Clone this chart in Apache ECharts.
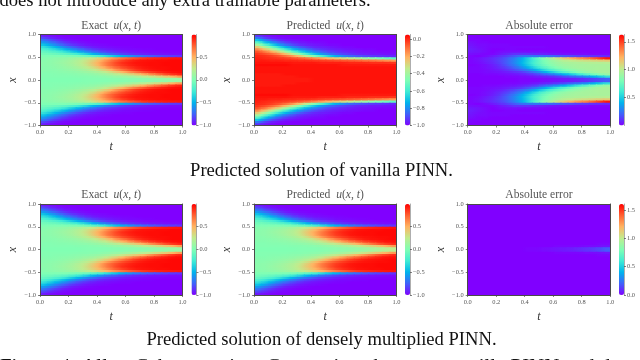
<!DOCTYPE html>
<html><head><meta charset="utf-8">
<style>html,body{margin:0;padding:0;background:#fff}#c{width:640px;height:360px;filter:blur(0.45px)}</style>
<script src="https://cdn.jsdelivr.net/npm/echarts@6/dist/echarts.min.js"></script>
</head><body><div id="c"></div>
<script>
// Cell centres. Rows run from x=.975 to x=.025; the lower half of each field mirrors the upper half, as in the picture.
const tCells = [.025,.075,.125,.175,.225,.275,.325,.375,.425,.475,.525,.575,.625,.675,.725,.775,.825,.875,.925,.975];
const xCellsUpper = [.975,.925,.875,.825,.775,.725,.675,.625,.575,.525,.475,.425,.375,.325,.275,.225,.175,.125,.075,.025];

const exactU = [
[-.93,-.97,-.99,-1,-1,-1,-1,-1,-1,-1,-1,-1,-1,-1,-1,-1,-1,-1,-1,-1],
[-.82,-.9,-.95,-.98,-.99,-1,-1,-1,-1,-1,-1,-1,-1,-1,-1,-1,-1,-1,-1,-1],
[-.7,-.8,-.88,-.94,-.97,-.99,-1,-1,-1,-1,-1,-1,-1,-1,-1,-1,-1,-1,-1,-1],
[-.58,-.69,-.79,-.87,-.93,-.96,-.98,-.99,-1,-1,-1,-1,-1,-1,-1,-1,-1,-1,-1,-1],
[-.44,-.56,-.68,-.78,-.86,-.91,-.95,-.97,-.98,-.99,-1,-1,-1,-1,-1,-1,-1,-1,-1,-1],
[-.31,-.41,-.53,-.65,-.75,-.83,-.89,-.93,-.96,-.97,-.98,-.99,-.99,-1,-1,-1,-1,-1,-1,-1],
[-.2,-.28,-.37,-.48,-.6,-.7,-.79,-.85,-.9,-.93,-.95,-.97,-.98,-.98,-.99,-.99,-1,-1,-1,-1],
[-.11,-.16,-.22,-.3,-.41,-.52,-.63,-.72,-.8,-.85,-.89,-.92,-.94,-.96,-.97,-.98,-.98,-.99,-.99,-.99],
[-.05,-.07,-.1,-.14,-.2,-.28,-.38,-.5,-.6,-.7,-.77,-.83,-.87,-.9,-.92,-.94,-.95,-.96,-.97,-.97],
[-.01,-.01,-.01,-.01,-.02,-.04,-.08,-.14,-.23,-.33,-.43,-.52,-.6,-.67,-.72,-.77,-.8,-.83,-.85,-.87],
[.02,.03,.05,.07,.1,.14,.2,.28,.38,.5,.6,.68,.75,.8,.85,.88,.9,.92,.93,.94],
[.03,.05,.07,.1,.14,.2,.28,.38,.5,.62,.74,.82,.88,.92,.94,.95,.96,.96,.97,.97],
[.04,.05,.08,.11,.15,.21,.3,.42,.55,.68,.79,.87,.91,.94,.95,.96,.96,.97,.97,.97],
[.04,.05,.07,.1,.14,.2,.28,.4,.54,.68,.78,.85,.9,.93,.95,.96,.96,.97,.97,.97],
[.03,.04,.06,.08,.11,.16,.23,.32,.45,.58,.7,.79,.85,.9,.93,.95,.96,.96,.97,.97],
[.03,.03,.04,.06,.08,.11,.16,.22,.31,.42,.56,.67,.77,.85,.9,.93,.95,.96,.97,.97],
[.02,.02,.03,.04,.05,.07,.1,.13,.19,.27,.37,.48,.59,.69,.77,.84,.89,.92,.95,.96],
[.01,.01,.02,.02,.03,.04,.05,.07,.1,.14,.2,.26,.33,.41,.5,.6,.69,.78,.85,.9],
[.01,.01,.01,.01,.01,.02,.02,.03,.04,.06,.08,.1,.13,.17,.22,.27,.33,.4,.48,.57],
[0,0,0,0,0,0,.01,.01,.01,.01,.02,.02,.03,.03,.04,.05,.06,.07,.08,.1]
];

const vanillaU = [
[-.93,-.97,-.99,-1,-1,-1,-1,-1,-1,-1,-1,-1,-1,-1,-1,-1,-1,-1,-1,-1],
[-.83,-.91,-.96,-.98,-.99,-1,-1,-1,-1,-1,-1,-1,-1,-1,-1,-1,-1,-1,-1,-1],
[-.7,-.81,-.89,-.94,-.97,-.98,-.99,-1,-1,-1,-1,-1,-1,-1,-1,-1,-1,-1,-1,-1],
[-.55,-.69,-.79,-.87,-.92,-.95,-.97,-.98,-.99,-.99,-1,-1,-1,-1,-1,-1,-1,-1,-1,-1],
[-.4,-.54,-.66,-.77,-.85,-.9,-.94,-.96,-.97,-.98,-.99,-.99,-1,-1,-1,-1,-1,-1,-1,-1],
[-.26,-.38,-.51,-.64,-.74,-.82,-.88,-.92,-.95,-.96,-.97,-.98,-.99,-.99,-1,-1,-1,-1,-1,-1],
[-.14,-.24,-.35,-.48,-.6,-.71,-.79,-.85,-.9,-.93,-.95,-.96,-.97,-.98,-.98,-.99,-.99,-1,-1,-1],
[-.06,-.12,-.2,-.3,-.43,-.55,-.66,-.75,-.82,-.87,-.91,-.93,-.95,-.96,-.97,-.98,-.98,-.99,-.99,-.99],
[-.02,-.05,-.09,-.15,-.24,-.35,-.48,-.6,-.7,-.78,-.84,-.88,-.91,-.93,-.95,-.96,-.97,-.97,-.98,-.98],
[0,-.01,-.03,-.06,-.11,-.17,-.26,-.37,-.48,-.58,-.67,-.75,-.8,-.85,-.88,-.9,-.92,-.93,-.94,-.95],
[.01,0,-.01,-.02,-.03,-.05,-.07,-.1,-.14,-.18,-.22,-.26,-.3,-.34,-.38,-.42,-.45,-.48,-.51,-.54],
[.02,.02,.01,.01,0,0,-.01,-.01,-.02,-.03,-.04,-.05,-.06,-.07,-.08,-.1,-.11,-.13,-.15,-.17],
[.03,.03,.03,.03,.03,.02,.02,.02,.02,.01,.01,.01,.01,0,0,0,-.01,-.01,-.01,-.02],
[.04,.04,.04,.04,.04,.03,.03,.03,.03,.03,.03,.03,.02,.02,.02,.02,.02,.02,.02,.02],
[.03,.03,.03,.03,.03,.03,.03,.03,.03,.03,.03,.03,.03,.03,.03,.03,.03,.03,.03,.03],
[.03,.03,.03,.03,.03,.03,.03,.03,.03,.03,.03,.03,.03,.03,.03,.03,.03,.03,.03,.03],
[.03,.03,.03,.03,.03,.03,.03,.03,.03,.03,.03,.03,.03,.03,.03,.03,.03,.03,.03,.03],
[.02,.02,.02,.02,.03,.03,.03,.03,.03,.03,.03,.03,.03,.03,.03,.03,.03,.03,.03,.03],
[.02,.02,.02,.02,.02,.02,.03,.03,.03,.03,.03,.03,.03,.03,.03,.03,.03,.03,.03,.03],
[.02,.02,.02,.02,.02,.02,.02,.02,.03,.03,.03,.03,.03,.03,.03,.03,.03,.03,.03,.03]
];

const vanillaError = [
[0,0,0,0,0,0,0,0,0,0,0,0,0,0,0,0,0,0,0,0],
[.01,0,0,0,0,0,0,0,0,0,0,0,0,0,0,0,0,0,0,0],
[.01,.01,0,0,0,0,0,0,0,0,0,0,0,0,0,0,0,0,0,0],
[.03,.01,.01,0,0,0,0,0,0,0,0,0,0,0,0,0,0,0,0,0],
[.04,.02,.02,.01,.01,.01,0,0,0,0,0,0,0,0,0,0,0,0,0,0],
[.05,.03,.02,.01,.01,.01,.01,.01,.01,.01,.01,0,0,0,0,0,0,0,0,0],
[.06,.04,.02,0,0,.01,.01,0,0,0,0,0,0,0,0,0,0,0,0,0],
[.05,.04,.02,0,.02,.03,.03,.03,.02,.02,.02,.01,.01,0,0,0,0,0,0,0],
[.03,.02,.01,.01,.04,.07,.1,.1,.1,.08,.07,.05,.04,.03,.03,.02,.02,.01,.01,.01],
[.01,0,.02,.05,.09,.13,.18,.23,.25,.25,.24,.23,.2,.18,.16,.13,.12,.1,.09,.08],
[.01,.03,.06,.09,.13,.19,.27,.38,.52,.68,.82,.94,1.05,1.14,1.23,1.3,1.35,1.42,1.5,1.58],
[.01,.03,.06,.09,.14,.2,.29,.39,.52,.65,.78,.87,.94,.99,1.02,1.05,1.07,1.09,1.12,1.14],
[.01,.02,.05,.08,.13,.2,.29,.4,.53,.66,.77,.85,.9,.94,.95,.96,.97,.98,.98,.99],
[0,.01,.03,.06,.11,.18,.26,.37,.5,.63,.74,.82,.88,.91,.93,.94,.94,.95,.95,.95],
[.01,.01,.03,.05,.09,.14,.21,.3,.42,.55,.67,.76,.83,.88,.91,.93,.94,.94,.95,.95],
[.01,.01,.02,.04,.06,.1,.15,.21,.29,.4,.52,.63,.72,.79,.85,.89,.92,.94,.95,.95],
[.01,.01,.02,.03,.04,.06,.09,.12,.18,.26,.36,.47,.58,.68,.76,.83,.88,.91,.94,.95],
[0,0,.01,.01,.02,.03,.04,.06,.09,.13,.19,.25,.32,.4,.49,.59,.68,.77,.84,.89],
[0,0,0,0,0,.01,.01,.02,.03,.05,.07,.09,.12,.16,.21,.26,.32,.39,.47,.56],
[0,0,0,0,0,0,0,.01,.01,.01,.02,.03,.04,.05,.06,.08,.1,.13,.16,.2]
];

const denseU = [
[-.93,-.97,-.99,-1,-1,-1,-1,-1,-1,-1,-1,-1,-1,-1,-1,-1,-1,-1,-1,-1],
[-.82,-.9,-.95,-.98,-.99,-1,-1,-1,-1,-1,-1,-1,-1,-1,-1,-1,-1,-1,-1,-1],
[-.7,-.8,-.88,-.94,-.97,-.99,-1,-1,-1,-1,-1,-1,-1,-1,-1,-1,-1,-1,-1,-1],
[-.58,-.69,-.79,-.87,-.93,-.96,-.98,-.99,-1,-1,-1,-1,-1,-1,-1,-1,-1,-1,-1,-1],
[-.44,-.56,-.68,-.78,-.86,-.91,-.95,-.97,-.98,-.99,-1,-1,-1,-1,-1,-1,-1,-1,-1,-1],
[-.31,-.41,-.53,-.65,-.75,-.83,-.89,-.93,-.96,-.97,-.98,-.99,-.99,-1,-1,-1,-1,-1,-1,-1],
[-.2,-.28,-.37,-.48,-.6,-.7,-.79,-.85,-.9,-.93,-.95,-.97,-.98,-.98,-.99,-.99,-1,-1,-1,-1],
[-.11,-.16,-.22,-.3,-.41,-.52,-.63,-.72,-.8,-.85,-.89,-.92,-.94,-.96,-.97,-.98,-.98,-.99,-.99,-.99],
[-.05,-.07,-.1,-.14,-.2,-.28,-.38,-.5,-.6,-.7,-.77,-.83,-.87,-.9,-.92,-.94,-.95,-.96,-.97,-.97],
[-.01,-.01,-.01,-.01,-.02,-.04,-.08,-.14,-.23,-.33,-.43,-.52,-.6,-.67,-.72,-.77,-.8,-.83,-.85,-.87],
[.02,.03,.05,.07,.1,.14,.2,.28,.37,.48,.58,.67,.74,.8,.85,.88,.9,.92,.93,.94],
[.03,.05,.07,.1,.14,.19,.27,.37,.48,.6,.72,.81,.87,.91,.94,.95,.96,.96,.97,.97],
[.04,.05,.08,.11,.15,.2,.29,.41,.53,.66,.77,.85,.9,.93,.95,.96,.96,.97,.97,.97],
[.04,.05,.07,.1,.14,.19,.27,.39,.52,.66,.76,.84,.89,.93,.95,.96,.96,.97,.97,.97],
[.03,.04,.06,.08,.11,.15,.22,.31,.44,.57,.69,.78,.84,.89,.92,.94,.95,.96,.96,.97],
[.03,.03,.04,.06,.08,.11,.15,.21,.3,.41,.54,.65,.75,.83,.88,.92,.94,.95,.96,.97],
[.02,.02,.03,.04,.05,.07,.1,.13,.18,.26,.36,.47,.57,.67,.75,.82,.87,.91,.94,.95],
[.01,.01,.02,.02,.03,.04,.05,.07,.1,.14,.2,.26,.33,.41,.5,.6,.69,.78,.84,.89],
[.01,.01,.01,.01,.01,.02,.02,.03,.04,.06,.08,.11,.14,.18,.23,.29,.35,.42,.5,.58],
[0,0,0,0,0,0,.01,.01,.01,.02,.03,.04,.05,.06,.08,.1,.13,.16,.2,.24]
];

const denseError = [
[0,0,0,0,0,0,0,0,0,0,0,0,0,0,0,0,0,0,0,0],
[0,0,0,0,0,0,0,0,0,0,0,0,0,0,0,0,0,0,0,0],
[0,0,0,0,0,0,0,0,0,0,0,0,0,0,0,0,0,0,0,0],
[0,0,0,0,0,0,0,0,0,0,0,0,0,0,0,0,0,0,0,0],
[0,0,0,0,0,0,0,0,0,0,0,0,0,0,0,0,0,0,0,0],
[0,0,0,0,0,0,0,0,0,0,0,0,0,0,0,0,0,0,0,0],
[0,0,0,0,0,0,0,0,0,0,0,0,0,0,0,0,0,0,0,0],
[0,0,0,0,0,0,0,0,0,0,0,0,0,0,0,0,0,0,0,0],
[0,0,0,0,0,0,0,0,0,0,0,0,0,0,0,0,0,0,0,0],
[0,0,0,0,0,0,0,0,0,0,0,0,0,0,0,0,0,0,0,0],
[0,0,0,0,0,0,0,0,0,0,0,0,0,0,0,0,0,0,0,0],
[0,0,0,0,0,0,0,0,0,0,0,0,0,0,0,0,0,0,0,0],
[0,0,0,0,0,0,0,0,0,0,0,0,0,0,0,0,0,0,0,0],
[0,0,0,0,0,0,0,0,0,0,0,0,0,0,0,0,0,0,0,0],
[0,0,0,0,0,0,0,0,0,0,0,0,0,0,0,0,0,0,0,0],
[0,0,0,0,0,0,0,0,0,0,0,0,0,0,0,0,0,0,0,0],
[0,0,0,0,0,0,0,0,0,0,0,0,0,0,0,0,0,0,0,0],
[0,0,0,0,0,0,0,0,0,0,0,0,0,0,0,0,0,0,.01,.01],
[0,0,0,0,0,0,0,0,0,0,0,0,.01,.01,.01,.01,.02,.02,.03,.04],
[0,0,0,0,0,0,0,0,.01,.01,.02,.03,.04,.05,.06,.08,.1,.12,.15,.19]
];

const xTicks = [0,.2,.4,.6,.8,1];
const yTicks = [-1,-.5,0,.5,1];
const cbTicksExact = [-1,-.5,0,.5];
const cbTicksVanilla = [-1,-.8,-.6,-.4,-.2,0];
const cbTicksVanillaErr = [.5,1,1.5];
const cbTicksDenseErr = [0,.5,1,1.5];
const captionTop = 'does not introduce any extra trainable parameters.';
const captionA = 'Predicted solution of vanilla PINN.';
const captionB = 'Predicted solution of densely multiplied PINN.';
const captionBottom = 'Figure 4: Allen-Cahn equation. Comparison between vanilla PINN and densely';
const rainbow = ['#8000ff','#4061fa','#00b4ec','#40ecd4','#80ffb4','#c0ec8e','#ffb462','#ff6132','#ff0000'];

const panels = [
 {field:exactU,      kind:'Exact',     left:40,    top:34.5, cb:191.5, min:-1, max:.99, ticks:cbTicksExact},
 {field:vanillaU,    kind:'Predicted', left:254,   top:34.5, cb:405,   min:-1, max:.054,ticks:cbTicksVanilla},
 {field:vanillaError,kind:'Absolute',  left:467.7, top:34.5, cb:619,   min:0,  max:1.63,ticks:cbTicksVanillaErr},
 {field:exactU,      kind:'Exact',     left:40,    top:204,  cb:191.5, min:-1, max:.99, ticks:cbTicksExact},
 {field:denseU,      kind:'Predicted', left:254,   top:204,  cb:405,   min:-1, max:.99, ticks:cbTicksExact},
 {field:denseError,  kind:'Absolute',  left:467.7, top:204,  cb:619,   min:0,  max:1.61,ticks:cbTicksDenseErr}
];

const W = 142.5, H = 91, CBW = 5, HALF = .025;
const SERIF = '"Liberation Serif","DejaVu Serif",serif';
const AX = '#4a4a4a', TXT = '#555';
const fmt = v => (v < 0 ? '\u2212' : '') + Math.abs(v).toFixed(1);
const rich = {
  a:{fontFamily:SERIF,fontSize:11.6,color:TXT},
  i:{fontFamily:SERIF,fontSize:11.6,color:TXT,fontStyle:'italic'}
};
const allRows = xCellsUpper.concat(xCellsUpper.map(v => -v).reverse());

const grid=[], xAxis=[], yAxis=[], series=[], visualMap=[], title=[], graphicText=[];
function caption(text, x, y, align, size){
  graphicText.push({type:'text', x, y, silent:true,
    style:{text, fill:'#111', textAlign:align, font:size + 'px "Liberation Serif",serif'}});
}
caption(captionTop, 185, -8.7, 'center', 18.6);
caption(captionA, 321.5, 161.5, 'center', 18.6);
caption(captionB, 321.5, 330.7, 'center', 18.6);
caption(captionBottom, 0, 357.2, 'left', 20.9);

const frameAxis = pos => ({show:true, position:pos, z:5,
  axisLine:{show:true,onZero:false,lineStyle:{color:AX,width:1}}, axisTick:{show:false}, axisLabel:{show:false}, splitLine:{show:false}});

panels.forEach((p, n) => {
  const g = grid.length;
  grid.push({left:p.left, top:p.top, width:W, height:H});
  const xi = xAxis.length, yi = yAxis.length;
  // numeric axes that show the scales
  xAxis.push({type:'value', gridIndex:g, position:'bottom', min:0, max:1, z:5,
    name:'t', nameLocation:'middle', nameGap:15.5,
    nameTextStyle:{fontFamily:SERIF,fontStyle:'italic',fontSize:12,color:'#333'},
    axisLine:{show:true,onZero:false,lineStyle:{color:AX,width:1}},
    axisTick:{show:true,length:2,customValues:xTicks,lineStyle:{color:AX,width:.7}},
    axisLabel:{fontFamily:SERIF,fontSize:6.4,color:TXT,margin:4,customValues:xTicks,formatter:fmt,hideOverlap:false},
    splitLine:{show:false}});
  yAxis.push({type:'value', gridIndex:g, position:'left', min:-1, max:1, z:5,
    name:'x', nameLocation:'middle', nameGap:21, nameRotate:90,
    nameTextStyle:{fontFamily:SERIF,fontStyle:'italic',fontSize:12,color:'#333'},
    axisLine:{show:true,onZero:false,lineStyle:{color:AX,width:1}},
    axisTick:{show:true,length:2,customValues:yTicks,lineStyle:{color:AX,width:.7}},
    axisLabel:{fontFamily:SERIF,fontSize:6.4,color:TXT,margin:4,customValues:yTicks,formatter:fmt,hideOverlap:false},
    splitLine:{show:false}});
  // top and right sides of the frame
  xAxis.push(Object.assign(frameAxis('top'), {type:'value', gridIndex:g, min:0, max:1}));
  yAxis.push(Object.assign(frameAxis('right'), {type:'value', gridIndex:g, min:-1, max:1}));

  const rowsFull = p.field.concat(p.field.slice().reverse());
  const cells = [];
  allRows.forEach((xv, r) => tCells.forEach((tv, c) => cells.push([tv, xv, rowsFull[r][c]])));
  const shade = v => echarts.color.lerp(Math.max(0, Math.min(1, (v - p.min) / (p.max - p.min))), rainbow);
  series.push({type:'custom', xAxisIndex:xi, yAxisIndex:yi, data:cells, silent:true, progressive:0, animation:false, clip:true,
    encode:{x:0, y:1},
    renderItem(params, api){
      const i = params.dataIndex, r = Math.floor(i / tCells.length), c = i % tCells.length;
      const row = rowsFull[r], v = row[c];
      const vL = (v + row[Math.max(0, c - 1)]) / 2, vR = (v + row[Math.min(row.length - 1, c + 1)]) / 2;
      const a = api.coord([api.value(0) - HALF, api.value(1) + HALF]);
      const b = api.coord([api.value(0) + HALF, api.value(1) - HALF]);
      const cw = b[0] - a[0];
      // later cells paint over the 1.2px overlap, which closes antialiasing seams
      return {type:'rect', shape:{x:a[0], y:a[1], width:cw + 1.2, height:b[1] - a[1] + 1.2},
        style:{fill:new echarts.graphic.LinearGradient(0, 0, 1, 0, [
          {offset:0, color:shade(vL)}, {offset:.25*cw/(cw+1.2), color:shade((vL + v) / 2)}, {offset:.5*cw/(cw+1.2), color:shade(v)},
          {offset:.75*cw/(cw+1.2), color:shade((vR + v) / 2)}, {offset:cw/(cw+1.2), color:shade(vR)}, {offset:1, color:shade(vR)}])}};
    }});
  visualMap.push({type:'continuous', seriesIndex:n, min:p.min, max:p.max, left:p.cb, top:p.top, dimension:2,
    itemWidth:CBW, itemHeight:H, text:null, showLabel:false, calculable:false, hoverLink:false, padding:0, align:'right',
    inRange:{color:rainbow}});
  // colourbar scale
  const cg = grid.length;
  grid.push({left:p.cb, top:p.top, width:CBW, height:H});
  xAxis.push({type:'value', gridIndex:cg, show:false, min:0, max:1});
  yAxis.push({type:'value', gridIndex:cg, position:'right', min:p.min, max:p.max, z:6,
    axisLine:{show:true,onZero:false,lineStyle:{color:'#777',width:.6}},
    axisTick:{show:true,length:2,customValues:p.ticks,lineStyle:{color:AX,width:.7}},
    axisLabel:{fontFamily:SERIF,fontSize:6.4,color:TXT,margin:3,customValues:p.ticks,formatter:fmt,hideOverlap:false},
    splitLine:{show:false}});
  const t = p.kind === 'Absolute' ? '{a|Absolute error}'
          : '{a|' + p.kind + '  }{i|u}{a|(}{i|x}{a|, }{i|t}{a|)}';
  title.push({text:t, left:p.left + W/2, top:p.top - 15, textAlign:'center', padding:0,
    textStyle:{rich, fontWeight:'normal'}});
});

const chart = echarts.init(document.getElementById('c'), null, {renderer:'canvas'});
chart.setOption({animation:false, backgroundColor:'#fff', title, grid, xAxis, yAxis, series, visualMap, graphic:{elements:graphicText}});
</script></body></html>
